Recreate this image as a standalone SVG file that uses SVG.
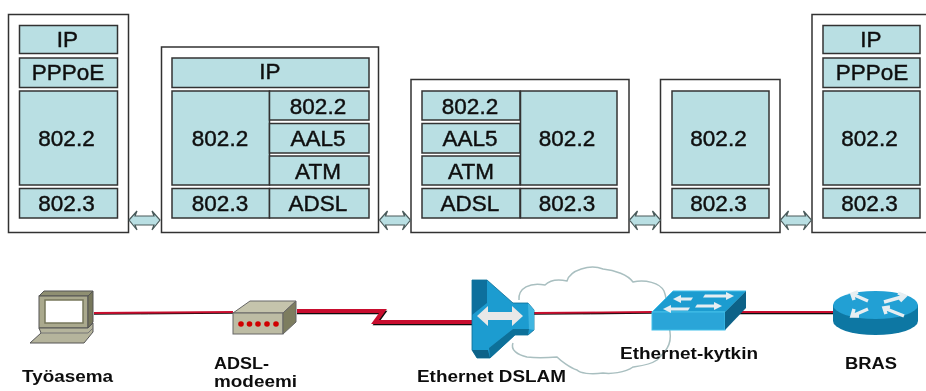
<svg xmlns="http://www.w3.org/2000/svg" width="926" height="391" viewBox="0 0 926 391">
<defs>
<filter id="soft" x="-5%" y="-5%" width="110%" height="110%"><feGaussianBlur stdDeviation="0.55"/></filter>
<polygon id="dbl" points="0,9 8,0 6,5 25,5 23,0 31,9 23,19 25,14 6,14 8,19" fill="#b9dfe3" stroke="#4a5a5a" stroke-width="1.2"/>
</defs>
<style>
.box{fill:#fff;stroke:#333;stroke-width:1.5}
.c{fill:#b9dfe3;stroke:#333;stroke-width:1.5}
.t{font:22.5px "Liberation Sans",Arial,sans-serif;fill:#111;stroke:#111;stroke-width:0.45;text-anchor:middle}
.l{font:bold 16px "Liberation Sans",Arial,sans-serif;fill:#111}
.k{fill:none;stroke:#111;stroke-linejoin:miter}
.r{fill:none;stroke:#c8102e;stroke-linejoin:miter}
</style>
<rect width="926" height="391" fill="#fff"/>
<g id="stack-1" filter="url(#soft)">
<rect class="box" x="8.5" y="14.5" width="120" height="218"/>
<rect class="c" x="19.5" y="25.5" width="98" height="28"/>
<rect class="c" x="19.5" y="58" width="98" height="29.5"/>
<rect class="c" x="19.5" y="91" width="98" height="94"/>
<rect class="c" x="19.5" y="188.5" width="98" height="29.5"/>
<text class="t" x="67.500" y="47">IP</text>
<text class="t" x="68" y="80">PPPoE</text>
<text class="t" x="66.500" y="146">802.2</text>
<text class="t" x="66.500" y="211">802.3</text>
</g>
<g id="stack-2" filter="url(#soft)">
<rect class="box" x="161.500" y="47" width="217" height="185.500"/>
<rect class="c" x="172" y="58" width="197" height="29.500"/>
<rect class="c" x="172" y="91" width="97.500" height="94"/>
<rect class="c" x="269.500" y="91" width="99.500" height="29"/>
<rect class="c" x="269.500" y="123.500" width="99.500" height="29.500"/>
<rect class="c" x="269.500" y="156" width="99.500" height="29"/>
<rect class="c" x="172" y="188.500" width="97.500" height="29.500"/>
<rect class="c" x="269.500" y="188.500" width="99.500" height="29.500"/>
<text class="t" x="270" y="79">IP</text>
<text class="t" x="220" y="146">802.2</text>
<text class="t" x="318" y="114">802.2</text>
<text class="t" x="318" y="146">AAL5</text>
<text class="t" x="318" y="179">ATM</text>
<text class="t" x="220" y="211">802.3</text>
<text class="t" x="318" y="211">ADSL</text>
</g>
<g id="stack-3" filter="url(#soft)">
<rect class="box" x="411" y="79.500" width="218" height="153"/>
<rect class="c" x="422" y="91" width="98" height="29"/>
<rect class="c" x="422" y="123.500" width="98" height="29.500"/>
<rect class="c" x="422" y="156" width="98" height="29"/>
<rect class="c" x="520.500" y="91" width="96.500" height="94"/>
<rect class="c" x="422" y="188.500" width="98" height="29.500"/>
<rect class="c" x="520.500" y="188.500" width="96.500" height="29.500"/>
<text class="t" x="470" y="114">802.2</text>
<text class="t" x="470" y="146">AAL5</text>
<text class="t" x="471" y="179">ATM</text>
<text class="t" x="567" y="146">802.2</text>
<text class="t" x="470" y="211">ADSL</text>
<text class="t" x="567" y="211">802.3</text>
</g>
<g id="stack-4" filter="url(#soft)">
<rect class="box" x="660.500" y="79.500" width="119.500" height="153"/>
<rect class="c" x="672" y="91" width="97" height="94"/>
<rect class="c" x="672" y="188.500" width="97" height="29.500"/>
<text class="t" x="718.500" y="146">802.2</text>
<text class="t" x="718.500" y="211">802.3</text>
</g>
<g id="stack-5" filter="url(#soft)">
<rect class="box" x="812" y="14.500" width="120" height="218"/>
<rect class="c" x="823" y="25.500" width="97" height="28"/>
<rect class="c" x="823" y="58" width="97" height="29.500"/>
<rect class="c" x="823" y="91" width="97" height="94"/>
<rect class="c" x="823" y="188.500" width="97" height="29.500"/>
<text class="t" x="871" y="47">IP</text>
<text class="t" x="872" y="80">PPPoE</text>
<text class="t" x="869.500" y="146">802.2</text>
<text class="t" x="869.500" y="211">802.3</text>
</g>
<g id="connectors" filter="url(#soft)">
<use href="#dbl" x="129" y="211"/>
<use href="#dbl" x="379.500" y="211"/>
<use href="#dbl" x="629.500" y="211"/>
<use href="#dbl" x="780.500" y="211"/>
<path class="k" stroke-width="1.5" d="M94,314 L233,313"/>
<path class="r" stroke-width="1.8" d="M94,313 L233,312"/>
<path class="k" stroke-width="3.5" d="M297,312.500 H384 L376,323.500 H472"/>
<path class="r" stroke-width="4" d="M297,311 H383 L375,322 H472"/>
<path class="k" stroke-width="1.5" d="M534,314 L652,313"/>
<path class="r" stroke-width="1.8" d="M534,313 L652,312"/>
<path class="k" stroke-width="1.500" d="M737,313.500 H833"/>
<path class="r" stroke-width="2" d="M737,312 H833"/>
</g>
<g id="cloud" filter="url(#soft)">
<path fill="none" stroke="#a9bfc0" stroke-width="1.5" d="M519,300 C518,288 530,282 545,285 C552,278 562,280 567,281 C570,270 590,264 603,269 C615,270 628,275 633,282 C645,279 660,283 664,291 C668,300 668,320 670,332 C672,345 665,352 657,360 C650,365 640,366 633,367 C625,373 610,374 603,373 C590,375 580,373 577,370 C570,368 560,360 557,357 C545,358 535,358 527,357 C518,355 510,350 513,343"/>
</g>
<g id="laptop" filter="url(#soft)">
<polygon points="39,296 44,291 93,291 88,296" fill="#8f8f72" stroke="#555"/>
<rect x="39" y="296" width="49" height="32" fill="#aaa98d" stroke="#555"/>
<polygon points="88,296 93,291 93,322 88,328" fill="#77775b" stroke="#555"/>
<rect x="45" y="300" width="38" height="23" fill="#fff" stroke="#77775b" stroke-width="1.5"/>
<polygon points="39,328 88,328 93,323 93,332 84,343 30,343 41,333" fill="#b5b49c" stroke="#555"/>
<path d="M41,333 H88 L93,328" fill="none" stroke="#777"/>
</g>
<g id="modem" filter="url(#soft)">
<polygon points="233,313 250,301 296,301 283,313" fill="#c5c4ac" stroke="#666"/>
<rect x="233" y="313" width="50" height="21" fill="#bdbca4" stroke="#666"/>
<polygon points="283,313 296,301 296,322 283,334" fill="#7d7d5f" stroke="#666"/>
<circle cx="241" cy="324" r="2.800" fill="#d00000"/><circle cx="249.500" cy="324" r="2.800" fill="#d00000"/><circle cx="258" cy="324" r="2.800" fill="#d00000"/><circle cx="267" cy="324" r="2.800" fill="#d00000"/><circle cx="276" cy="324" r="2.800" fill="#d00000"/>
</g>
<g id="dslam" filter="url(#soft)">
<polygon points="472,280 487,280 513,303 528,303 534,310 534,330 528,335 515,335 490,358 477,358 472,350" fill="#1f9cd0" stroke="#0d6d96" stroke-width="0.800"/>
<polygon points="472,280 487,280 487,303 472,315" fill="#0f6f9d"/>
<polygon points="489,348 513,329 529,329 528,335 515,335 490,358" fill="#0f7099"/>
<polygon points="472,350 488,350 490,358 477,358" fill="#0d6288"/>
<polygon points="528,303 534,310 534,330 529,329" fill="#40b5e0"/>
<polygon points="477,316 488,306 488,312 512,312 512,306 523,316 512,326 512,320 488,320 488,326" fill="#e8e8e8"/>
</g>
<g id="switch" filter="url(#soft)">
<polygon points="652,312 673,291 746,291 725,312" fill="#1f9cd0" stroke="#45c0ea"/>
<rect x="652" y="312" width="73" height="18" fill="#29a5d8" stroke="#45c0ea"/>
<polygon points="725,312 746,291 746,308 725,330" fill="#0f6288"/>
<g fill="#e6eef2"><polygon points="673,299 681,295 681,297.500 693,297.500 691,300.500 681,300.500 681,303"/><polygon points="734,296 726,292 726,294.500 705,294.500 703,297.500 726,297.500 726,300"/><polygon points="663,309 671,305 671,307.500 690,307.500 688,310.500 671,310.500 671,313"/><polygon points="722,306 714,302 714,304.500 697,304.500 695,307.500 714,307.500 714,310"/></g>
</g>
<g id="router" filter="url(#soft)">
<path d="M833,305 V321 A42.500,14 0 0 0 918,321 V305 Z" fill="#0f77a3"/>
<ellipse cx="875.500" cy="305" rx="42.500" ry="14" fill="#22a0d4"/>
<g fill="none" stroke="#e6eef2" stroke-width="3.500"><path d="M852,294 L868,301 M858,292 L852,294 L854,300"/><path d="M905,296 L884,302 M898,293 L905,296 L900,301"/><path d="M852,316 L868,309 M854,309 L852,316 L859,316"/><path d="M904,316 L884,308 M890,307 L884,308 L886,314"/></g>
</g>
<g id="labels" filter="url(#soft)">
<text class="l" x="22" y="382" textLength="91" lengthAdjust="spacingAndGlyphs">Työasema</text>
<text class="l" x="214" y="369" textLength="55" lengthAdjust="spacingAndGlyphs">ADSL-</text>
<text class="l" x="214" y="387" textLength="83" lengthAdjust="spacingAndGlyphs">modeemi</text>
<text class="l" x="417" y="382" textLength="149" lengthAdjust="spacingAndGlyphs">Ethernet DSLAM</text>
<text class="l" x="620" y="359" textLength="138" lengthAdjust="spacingAndGlyphs">Ethernet-kytkin</text>
<text class="l" x="845" y="369" textLength="52" lengthAdjust="spacingAndGlyphs">BRAS</text>
</g>
</svg>
